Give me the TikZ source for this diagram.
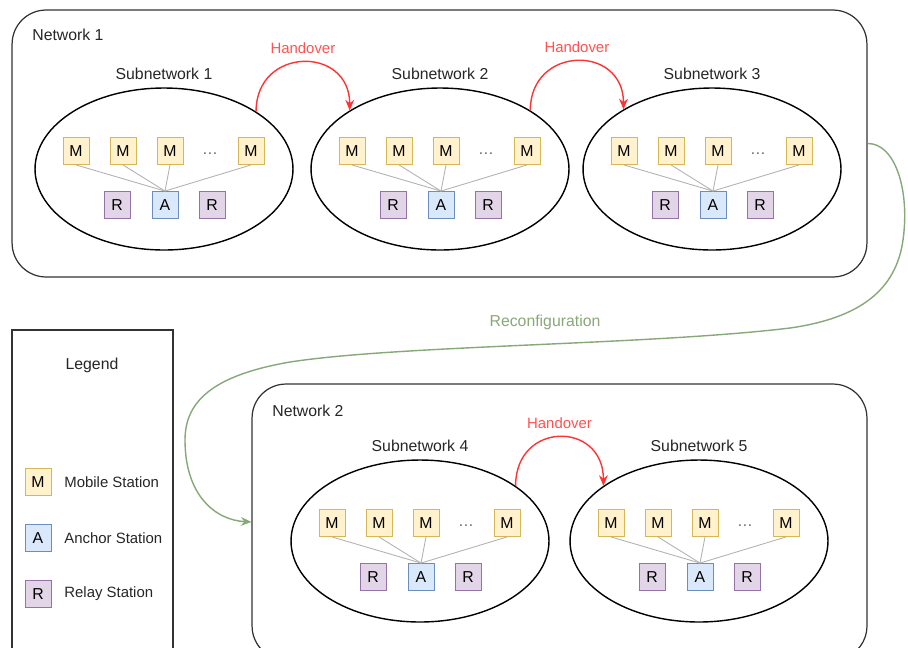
\documentclass[tikz,border=0pt]{standalone}
\usepackage{fontspec}
\setmainfont{Liberation Sans}
\usepackage{xcolor}
\usetikzlibrary{arrows.meta,positioning,shapes.geometric}

\definecolor{mfill}{HTML}{FFF2CC}
\definecolor{mline}{HTML}{D6B656}
\definecolor{afill}{HTML}{DAE8FC}
\definecolor{aline}{HTML}{6C8EBF}
\definecolor{rfill}{HTML}{E1D5E7}
\definecolor{rline}{HTML}{9673A6}
\definecolor{hored}{HTML}{FF3333}
\definecolor{rcgreen}{HTML}{87A878}

\begin{document}
\begin{tikzpicture}[x=0.02cm,y=-0.02cm,
	net/.style={draw=black!80, line width=0.7pt, rounded corners=0.68cm, inner sep=0pt},
	legendbox/.style={draw=black!80, line width=0.7pt, inner sep=0pt, minimum width=3.22cm, minimum height=7cm},
	subnet/.style={draw, ellipse, line width=0.8pt, minimum width=5.16cm, minimum height=3.24cm, inner sep=0pt},
	lbl/.style={font=\fontsize{9}{10}\selectfont, text=black!85},
	station/.style={draw, line width=0.5pt, minimum width=0.52cm, minimum height=0.54cm, inner sep=0pt, font=\fontsize{9}{10}\selectfont},
	mbox/.style={station, fill=mfill, draw=mline},
	abox/.style={station, fill=afill, draw=aline},
	rbox/.style={station, fill=rfill, draw=rline},
	link/.style={draw=black!30, line width=0.5pt},
	handover/.style={draw=hored, line width=0.8pt, -{Stealth[length=6pt,width=5pt]}},
	hlabel/.style={pos=0.5, above=1pt, font=\fontsize{8.5}{10}\selectfont, text=hored!85},
	reconf/.style={draw=rcgreen, line width=0.8pt, -{Stealth[length=6pt,width=5pt]}}]
	\useasboundingbox (0,0) rectangle (908,647);
	\clip (0,0) rectangle (908,647);

	% networks and legend
	\node[net, minimum width=17.1cm, minimum height=5.34cm] (net1) at (439.5,143.5) {};
	\node[lbl, anchor=west, inner sep=0pt] (n1) at (32,35) {Network 1};
	\node[net, minimum width=12.3cm, minimum height=5.52cm] (net2) at (559.5,522) {};
	\node[lbl, anchor=west, inner sep=0pt] (n2) at (272,411) {Network 2};
	\node[legendbox] (leg) at (92.5,505) {};
	\node[lbl] (legt) at (92,365) {Legend};
	\node[mbox] (lm) at (38,482) {M};
	\node[abox] (la) at (38,538) {A};
	\node[rbox] (lr) at (38,594) {R};
	\node[lbl, anchor=west, inner sep=0pt, font=\fontsize{8.5}{10}\selectfont] at (64,482) {Mobile Station};
	\node[lbl, anchor=west, inner sep=0pt, font=\fontsize{8.5}{10}\selectfont] at (64,538) {Anchor Station};
	\node[lbl, anchor=west, inner sep=0pt, font=\fontsize{8.5}{10}\selectfont] at (64,594) {Relay Station};

	% subnetworks
	\foreach \n/\cx/\cy in {1/164/169, 2/440/169, 3/712/169, 4/420/541, 5/699/541} {
		\node[subnet] (e\n) at (\cx,\cy) {};
		\node[lbl, above=1pt of e\n] (t\n) {Subnetwork \n};
		\node[mbox] (m\n-1) at ([shift={(-88,-18)}]e\n.center) {M};
		\node[mbox] (m\n-2) at ([shift={(-41,-18)}]e\n.center) {M};
		\node[mbox] (m\n-3) at ([shift={(6,-18)}]e\n.center) {M};
		\node[lbl, text=black!60] (d\n) at ([shift={(46,-15)}]e\n.center) {\ldots};
		\node[mbox] (m\n-4) at ([shift={(87,-18)}]e\n.center) {M};
		\node[rbox] (r\n-1) at ([shift={(-47,36)}]e\n.center) {R};
		\node[abox] (a\n) at ([shift={(1,36)}]e\n.center) {A};
		\node[rbox] (r\n-2) at ([shift={(48,36)}]e\n.center) {R};
		\foreach \k in {1,...,4}
			\draw[link] (m\n-\k.south) -- (a\n.north);
	}

	% handovers
	\draw[handover] (e1.32) .. controls +(0,-65) and +(0,-65) .. (e2.147) node[hlabel] {Handover};
	\draw[handover] (e2.33) .. controls +(0,-65) and +(0,-65) .. (e3.146) node[hlabel] {Handover};
	\draw[handover] (e4.30) .. controls +(0,-65) and +(0,-65) .. (e5.150) node[hlabel] {Handover};

	% reconfiguration
	\draw[reconf] (net1.east) .. controls (895,143) and (910,190) .. (903,240)
		.. controls (896,290) and (860,318) .. (790,328)
		.. controls (650,345) and (400,345) .. (290,362)
		.. controls (215,375) and (185,400) .. (185,440)
		.. controls (185,495) and (215,520) .. (net2.west);
	\node[lbl, text=rcgreen] (rc) at (545,322) {Reconfiguration};
\end{tikzpicture}
\end{document}
